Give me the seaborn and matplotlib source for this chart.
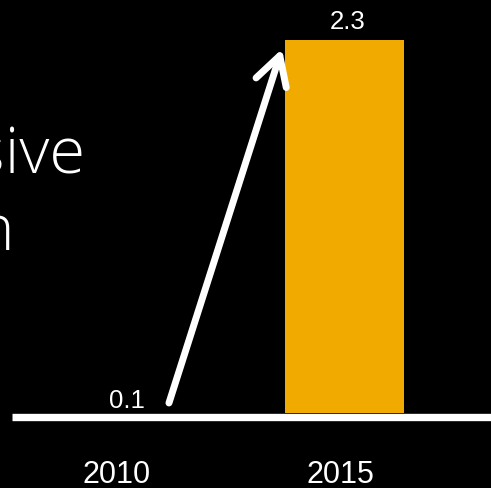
import matplotlib
matplotlib.use("Agg")
import matplotlib.pyplot as plt
import seaborn as sns
import pandas as pd

years = ["2010", "2015"]
values = [0.1, 2.3]
value_labels = ["0.1", "2.3"]
title_lines = ["Massive", "gain"]

sns.set_theme(style="dark")
plt.rcParams["font.family"] = ["Liberation Sans", "DejaVu Sans"]

W, H = 491, 489
fig = plt.figure(figsize=(W / 100, H / 100), dpi=100, facecolor="black")
ax = fig.add_axes([0, 0, 1, 1])
ax.set_facecolor("black")

df = pd.DataFrame({"year": years, "value": values})
sns.barplot(data=df, x="year", y="value", order=years, width=0.547,
            palette=["#000000", "#F0AA00"], hue="year", legend=False,
            saturation=1, ax=ax, edgecolor="none")

ax.set_xlim(-0.584, 1.674)
ax.set_ylim(-0.4624, 2.552)
for s in ax.spines.values():
    s.set_visible(False)
ax.set_xticks([])
ax.set_yticks([])
ax.set_xlabel("")
ax.set_ylabel("")
ax.grid(False)

# baseline
ax.plot([-0.527, 1.8], [-0.0247, -0.0247], color="white", lw=5.3,
        solid_capstyle="butt", zorder=3)

# value labels
val_offsets = [(0, -7.5), (2.5, 8.2)]  # points
for i, (v, lab) in enumerate(zip(values, value_labels)):
    ax.annotate(lab, xy=(i, v), xytext=val_offsets[i], textcoords="offset points",
                ha="center", va="baseline", color="white", fontsize=18.5)

# category labels
cat_dx = [-7.5, -3.2]  # points
for i, lab in enumerate(years):
    ax.annotate(lab, xy=(i, 0), xytext=(cat_dx[i], -49.5), textcoords="offset points",
                ha="center", va="baseline", color="white", fontsize=22)

# arrow
ax.annotate("", xy=(0.7126, 2.244), xytext=(0.193, 0.0617),
            arrowprops=dict(arrowstyle="->,head_length=1.7,head_width=0.95",
                            color="white", lw=5, shrinkA=0, shrinkB=0,
                            capstyle="round", joinstyle="round"),
            zorder=4)

# big text (cut at left edge)
fam = ["Open Sans", "DejaVu Sans"]
fig.text(86 / W, 1 - 173 / H, title_lines[0], ha="right", va="baseline",
         color="white", fontsize=47, family=fam, fontweight=300)
fig.text(15 / W, 1 - 250 / H, title_lines[1], ha="right", va="baseline",
         color="white", fontsize=47, family=fam, fontweight=300)

fig.savefig("out.png", dpi=100, facecolor="black")
